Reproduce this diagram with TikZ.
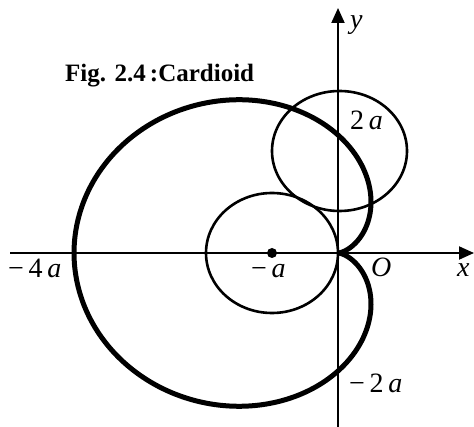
\documentclass[tikz,border=0pt]{standalone}
\usepackage{fontspec}
\setmainfont{Liberation Serif}
\usetikzlibrary{arrows.meta}
\tikzset{
  axis/.style={line width=2pt,-{Triangle[length=15pt,width=13pt]}},
  thincurve/.style={line width=2.6pt},
  thickcurve/.style={line width=5pt},
  lbl/.style={inner sep=0pt,anchor=base west,font=\fontsize{28}{30}\selectfont},
  title/.style={inner sep=0pt,anchor=base west,font=\fontsize{25}{27}\selectfont\bfseries}
}
\begin{document}
\begin{tikzpicture}[x=1pt,y=-1pt]
\useasboundingbox (0,0) rectangle (474,427);
\coordinate (O) at (338,253);
\coordinate (xs) at (10,253);
\coordinate (xe) at (474,253);
\coordinate (ys) at (338,427);
\coordinate (ye) at (338,8);
\coordinate (c1) at (272,253);
\coordinate (c2) at (339.5,151);
% circles
\draw[thincurve] (c1) ellipse [x radius=66, y radius=60];
\draw[thincurve] (c2) ellipse [x radius=67.5, y radius=60];
% cardioid
\draw[thickcurve,line join=round] plot[domain=0:360,samples=240,smooth,variable=\t]
  ({338+132*(1-cos(\t))*cos(\t)},{253-118*(1-cos(\t))*sin(\t)});
% axes
\draw[axis] (xs) -- (xe);
\draw[axis] (ys) -- (ye);
\fill (c1) circle (5);
% labels
\node[title] (ttl) at (65,82) {Fig. 2.4\,:Cardioid};
\node[lbl] (ly) at (350,29) {\itshape y};
\node[lbl] (l2a) at (350,130) {2\,\textit{a}};
\node[lbl] (l4a) at (8,278) {−\,4\,\textit{a}};
\node[lbl] (la) at (251,278) {−\,\textit{a}};
\node[lbl] (lO) at (371,277) {\itshape O};
\node[lbl] (lx) at (457,277) {\itshape x};
\node[lbl] (lm2a) at (349,393) {−\,2\,\textit{a}};
\end{tikzpicture}
\end{document}
